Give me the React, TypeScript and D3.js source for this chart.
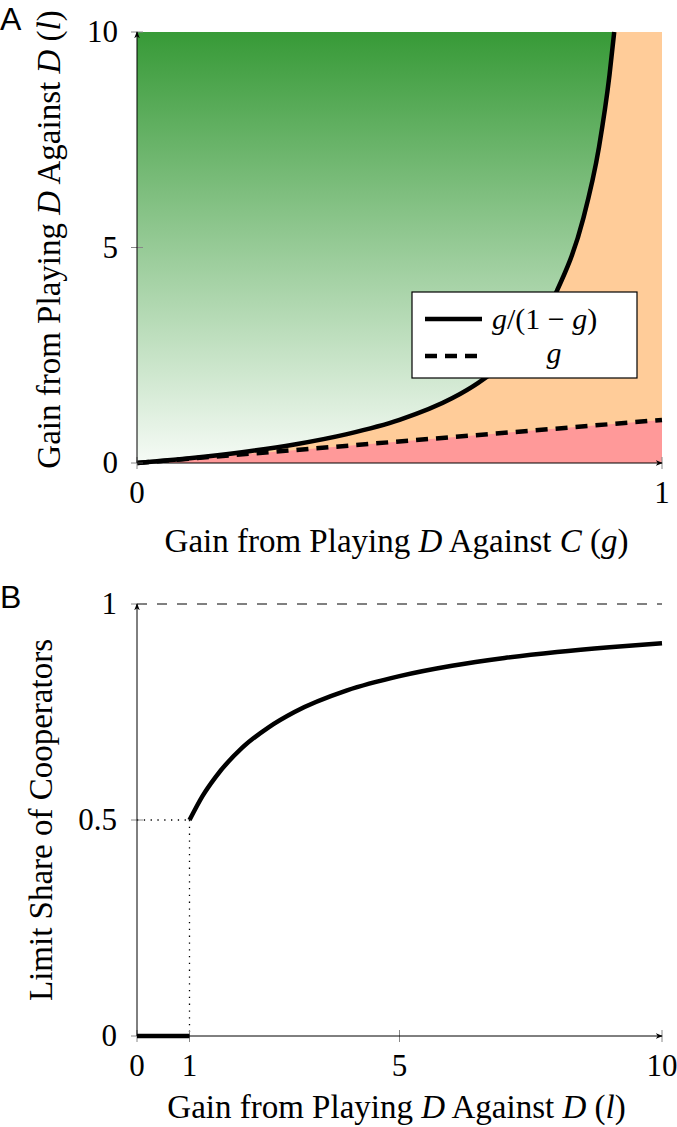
import React from 'react';
import * as d3 from 'd3';

// Panel A: threshold curve l = g/(1-g)
const curveG = [0, 0.1, 0.2, 0.3, 0.4, 0.5, 0.6, 0.65, 0.7, 0.75, 0.8, 0.85, 0.88, 0.9, 0.909];
const curveL = [0, 0.11, 0.25, 0.43, 0.67, 1, 1.5, 1.86, 2.33, 3, 4, 5.67, 7.33, 9, 10];
// Panel A: line l = g
const lineG = [0, 1];
const lineL = [0, 1];
const ticksA_x = [0, 1];
const ticksA_y = [0, 5, 10];

// Panel B: limit share of cooperators
const shareL = [1, 1.25, 1.5, 2, 2.5, 3, 4, 5, 6, 7, 8, 9, 10];
const shareV = [0.5, 0.556, 0.6, 0.667, 0.714, 0.75, 0.8, 0.833, 0.857, 0.875, 0.889, 0.9, 0.909];
const zeroL = [0, 1];
const zeroV = [0, 0];
const ticksB_x = [0, 1, 5, 10];
const ticksB_y = [0, 0.5, 1];

const serif = "'Liberation Serif', 'DejaVu Serif', serif";
const sans = "'Liberation Sans', Arial, sans-serif";
const FS_TICK = 31;
const FS_LAB = 33;
const FS_LEG = 30;

const Arrow = ({ id }: { id: string }) => (
  <marker id={id} viewBox="0 0 10 10" refX="9" refY="5" markerWidth="7" markerHeight="7" orient="auto">
    <path d="M0,1 L10,5 L0,9 L3,5 Z" fill="#000" />
  </marker>
);

const App = () => {
  const W = 677, H = 1127;
  const left = 137, right = 662;

  // ---- panel A scales
  const xA = d3.scaleLinear().domain([0, 1]).range([left, right]);
  const yA = d3.scaleLinear().domain([0, 10]).range([463, 32]);
  const ptsA = curveG.map((g, i) => [g, curveL[i]] as [number, number]);
  const lineA = d3.line<[number, number]>().x(d => xA(d[0])).y(d => yA(d[1])).curve(d3.curveMonotoneX);
  const greenArea = d3.area<[number, number]>()
    .x(d => xA(d[0])).y0(yA(10)).y1(d => yA(d[1])).curve(d3.curveMonotoneX);
  const gPts = lineG.map((g, i) => [g, lineL[i]] as [number, number]);
  const pinkArea = d3.area<[number, number]>().x(d => xA(d[0])).y0(yA(0)).y1(d => yA(d[1]));
  const straight = d3.line<[number, number]>().x(d => xA(d[0])).y(d => yA(d[1]));

  // ---- panel B scales
  const xB = d3.scaleLinear().domain([0, 10]).range([left, right]);
  const yB = d3.scaleLinear().domain([0, 1]).range([1036, 604]);
  const lineB = d3.line<[number, number]>().x(d => xB(d[0])).y(d => yB(d[1])).curve(d3.curveMonotoneX);
  const ptsB = shareL.map((l, i) => [l, shareV[i]] as [number, number]);
  const zeroPts = zeroL.map((l, i) => [l, zeroV[i]] as [number, number]);
  const straightB = d3.line<[number, number]>().x(d => xB(d[0])).y(d => yB(d[1]));

  const tickColor = '#888';

  return (
    <svg width={W} height={H} style={{ position: 'absolute', left: 0, top: 0, background: '#fff' }}>
      <defs>
        <linearGradient id="green" x1="0" y1={yA(10)} x2="0" y2={yA(0)} gradientUnits="userSpaceOnUse">
          <stop offset="0" stopColor="#379a37" />
          <stop offset="1" stopColor="#f6fbf6" />
        </linearGradient>
        <Arrow id="arr" />
      </defs>

      {/* ================= Panel A ================= */}
      <text x={0} y={30} fontFamily={sans} fontSize={32}>A</text>
      <rect x={xA(0)} y={yA(10)} width={xA(1) - xA(0)} height={yA(0) - yA(10)} fill="#ffcc99" />
      <path d={pinkArea(gPts) || ''} fill="#ff9999" />
      <path d={greenArea(ptsA) || ''} fill="url(#green)" />
      <path d={straight(gPts) || ''} fill="none" stroke="#000" strokeWidth={4.5} strokeDasharray="12 8" />
      <path d={lineA(ptsA) || ''} fill="none" stroke="#000" strokeWidth={4.5} />

      {ticksA_y.map(t => (
        <g key={'ay' + t}>
          <line x1={left - 6} x2={left + 6} y1={yA(t)} y2={yA(t)} stroke={tickColor} strokeWidth={1} />
          <text x={118} y={yA(t)} dy="0.33em" textAnchor="end" fontFamily={serif} fontSize={FS_TICK}>{t}</text>
        </g>
      ))}
      {ticksA_x.map(t => (
        <g key={'ax' + t}>
          <line x1={xA(t)} x2={xA(t)} y1={yA(0) - 6} y2={yA(0) + 6} stroke={tickColor} strokeWidth={1} />
          <text x={xA(t)} y={503} textAnchor="middle" fontFamily={serif} fontSize={FS_TICK}>{t}</text>
        </g>
      ))}
      <line x1={left} y1={yA(0)} x2={left} y2={yA(10)} stroke="#000" strokeWidth={1} markerEnd="url(#arr)" />
      <line x1={left} y1={yA(0)} x2={right} y2={yA(0)} stroke="#000" strokeWidth={1} markerEnd="url(#arr)" />

      <text x={(left + right) / 2 - 3} y={552} textAnchor="middle" fontFamily={serif} fontSize={FS_LAB}>
        Gain from Playing <tspan fontStyle="italic">D</tspan> Against <tspan fontStyle="italic">C</tspan> (<tspan fontStyle="italic">g</tspan>)
      </text>
      <text transform={`translate(60,${(yA(0) + yA(10)) / 2 - 8}) rotate(-90)`} textAnchor="middle" fontFamily={serif} fontSize={FS_LAB}>
        Gain from Playing <tspan fontStyle="italic">D</tspan> Against <tspan fontStyle="italic">D</tspan> (<tspan fontStyle="italic">l</tspan>)
      </text>

      {/* legend */}
      <rect x={412} y={292} width={225} height={86} fill="#fff" stroke="#000" strokeWidth={1.2} />
      <line x1={425} x2={482} y1={319} y2={319} stroke="#000" strokeWidth={4.5} />
      <line x1={425} x2={482} y1={356} y2={356} stroke="#000" strokeWidth={4.5} strokeDasharray="12 8" />
      <text x={492} y={329} fontFamily={serif} fontSize={FS_LEG}>
        <tspan fontStyle="italic">g</tspan>/(1 − <tspan fontStyle="italic">g</tspan>)
      </text>
      <text x={554} y={363} textAnchor="middle" fontFamily={serif} fontSize={FS_LEG} fontStyle="italic">g</text>

      {/* ================= Panel B ================= */}
      <text x={0} y={608} fontFamily={sans} fontSize={32}>B</text>
      <path d={straightB([[0, 1], [10, 1]]) || ''} fill="none" stroke="#000" strokeWidth={1} strokeDasharray="10 10" />
      <path d={straightB([[0, 0.5], [1, 0.5]]) || ''} fill="none" stroke="#000" strokeWidth={1.3} strokeDasharray="1.3 5.5" />
      <path d={straightB([[1, 0.5], [1, 0]]) || ''} fill="none" stroke="#000" strokeWidth={1.3} strokeDasharray="1.3 5.5" />

      {ticksB_y.map(t => (
        <g key={'by' + t}>
          <line x1={left - 6} x2={left + 6} y1={yB(t)} y2={yB(t)} stroke={tickColor} strokeWidth={1} />
          <text x={117} y={yB(t)} dy="0.33em" textAnchor="end" fontFamily={serif} fontSize={FS_TICK}>{t}</text>
        </g>
      ))}
      {ticksB_x.map(t => (
        <g key={'bx' + t}>
          <line x1={xB(t)} x2={xB(t)} y1={yB(0) - 6} y2={yB(0) + 6} stroke={tickColor} strokeWidth={1} />
          <text x={xB(t)} y={1076} textAnchor="middle" fontFamily={serif} fontSize={FS_TICK}>{t}</text>
        </g>
      ))}
      <path d={straightB(zeroPts) || ''} fill="none" stroke="#000" strokeWidth={4.5} />
      <path d={lineB(ptsB) || ''} fill="none" stroke="#000" strokeWidth={4.5} />
      <line x1={left} y1={yB(0)} x2={left} y2={yB(1)} stroke="#000" strokeWidth={1} markerEnd="url(#arr)" />
      <line x1={left} y1={yB(0)} x2={right} y2={yB(0)} stroke="#000" strokeWidth={1} markerEnd="url(#arr)" />

      <text x={(left + right) / 2 - 3} y={1118} textAnchor="middle" fontFamily={serif} fontSize={FS_LAB}>
        Gain from Playing <tspan fontStyle="italic">D</tspan> Against <tspan fontStyle="italic">D</tspan> (<tspan fontStyle="italic">l</tspan>)
      </text>
      <text transform={`translate(52,${(yB(0) + yB(1)) / 2}) rotate(-90)`} textAnchor="middle" fontFamily={serif} fontSize={FS_LAB}>
        Limit Share of Cooperators
      </text>
    </svg>
  );
};

export default App;
